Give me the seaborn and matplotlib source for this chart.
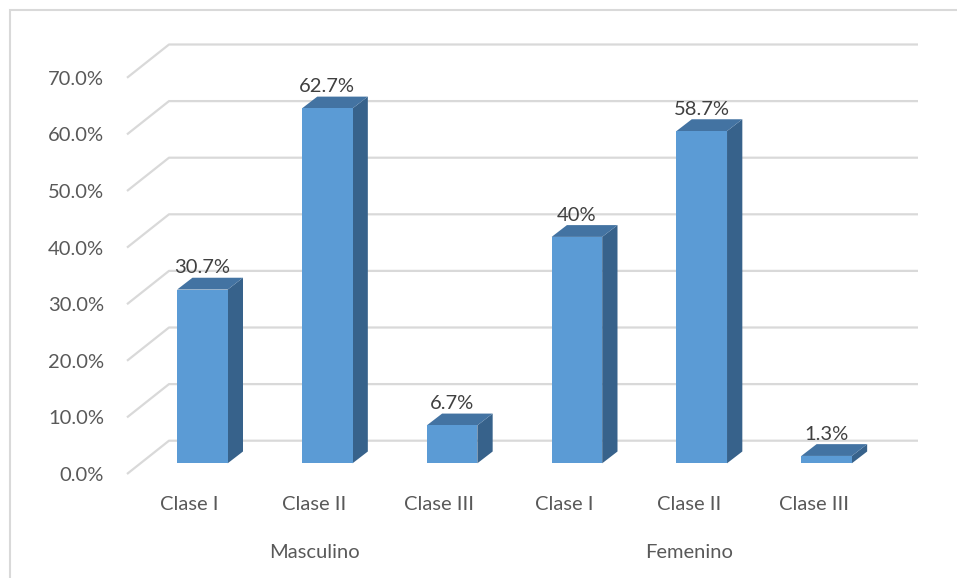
import matplotlib
matplotlib.use("Agg")
import matplotlib.pyplot as plt
from matplotlib.patches import Polygon, Rectangle
import seaborn as sns
import pandas as pd

# Data
grupos = ["Masculino", "Masculino", "Masculino", "Femenino", "Femenino", "Femenino"]
clases = ["Clase I", "Clase II", "Clase III", "Clase I", "Clase II", "Clase III"]
valores = [30.7, 62.7, 6.7, 40.0, 58.7, 1.3]
y_ticks = [0, 10, 20, 30, 40, 50, 60, 70]
y_tick_labels = ["0.0%", "10.0%", "20.0%", "30.0%", "40.0%", "50.0%", "60.0%", "70.0%"]
group_names = ["Masculino", "Femenino"]

df = pd.DataFrame({"grupo": grupos, "clase": clases, "valor": valores})
df["clave"] = df["grupo"] + " | " + df["clase"]
order = list(df["clave"])

sns.set_theme(style="white")
plt.rcParams["font.family"] = ["Lato", "DejaVu Sans"]

W, H = 957, 578
fig = plt.figure(figsize=(W / 100, H / 100), dpi=100)

# pixel geometry of the front plane of the 3D box
px_left, px_right = 127, 876
px_zero, px_per_unit = 474.0, 5.66
n = len(order)
slot = (px_right - px_left) / n
ax_h = 70 * px_per_unit
fs = 14.5

def axes_rect(left_px, zero_px):
    return [left_px / W, (H - zero_px) / H, (px_right - px_left) / W, ax_h / H]

# front plane axes (tick labels, gridlines)
ax = fig.add_axes(axes_rect(px_left, px_zero))
ax.set_xlim(-0.5, n - 0.5)
ax.set_ylim(0, 70)
ax.patch.set_alpha(0)
for s in ax.spines.values():
    s.set_visible(False)

# depth of the whole box (front plane -> back wall), in data units
wall_dx = 42 / slot
wall_dy = 33.3 / px_per_unit
grid_color = "#d9d9d9"
for v in y_ticks:
    ax.plot([-0.5, -0.5 + wall_dx, n - 0.5 + wall_dx], [v, v + wall_dy, v + wall_dy],
            color=grid_color, lw=1.6, clip_on=False, zorder=0, solid_capstyle="butt")

ax.set_yticks(y_ticks)
ax.set_yticklabels(y_tick_labels)
ax.set_xticks(range(n))
ax.set_xticklabels(clases)
ax.tick_params(axis="y", length=0, pad=16.5, labelsize=fs, labelcolor="#595959")
ax.tick_params(axis="x", length=0, pad=16, labelsize=fs, labelcolor="#595959")
ax.set_xlabel("")
ax.set_ylabel("")

# group labels under the middle class of each group
for i, g in enumerate(group_names):
    ax.text(1 + 3 * i, -13.8, g, ha="center", va="center", fontsize=fs,
            color="#595959", clip_on=False)

# bar plane axes: sits a little deeper inside the box
bax = fig.add_axes(axes_rect(px_left + 13, px_zero - 10.7))
sns.barplot(data=df, x="clave", y="valor", order=order, color="#5B9BD5",
            saturation=1, width=0.405, linewidth=0, ax=bax, zorder=3)
bax.set_xlim(-0.5, n - 0.5)
bax.set_ylim(0, 70)
bax.axis("off")
bax.patch.set_alpha(0)

# bar depth (front face -> back face)
bar_dx = 15.3 / slot
bar_dy = 11.8 / px_per_unit
top_color = "#4373a2"
side_color = "#37628b"
for p, v in zip(bax.patches, valores):
    x0 = p.get_x()
    x1 = x0 + p.get_width()
    h = p.get_height()
    side = Polygon([(x1, 0), (x1 + bar_dx, bar_dy), (x1 + bar_dx, h + bar_dy), (x1, h)],
                   closed=True, facecolor=side_color, edgecolor="none", zorder=2, clip_on=False)
    top = Polygon([(x0, h), (x1, h), (x1 + bar_dx, h + bar_dy), (x0 + bar_dx, h + bar_dy)],
                  closed=True, facecolor=top_color, edgecolor="none", zorder=2, clip_on=False)
    bax.add_patch(side)
    bax.add_patch(top)
    bax.text((x0 + x1) / 2, h + bar_dy + 0.75, f"{v:g}%", ha="center", va="baseline",
             fontsize=fs, color="#404040", clip_on=False, zorder=5)

# chart area border
fig.add_artist(Rectangle((9.5 / W, -0.05), 1.2, (H - 9.5) / H + 0.05,
                         transform=fig.transFigure, fill=False,
                         edgecolor="#d9d9d9", lw=1.5))

fig.savefig("out.png", dpi=100, facecolor="white")
